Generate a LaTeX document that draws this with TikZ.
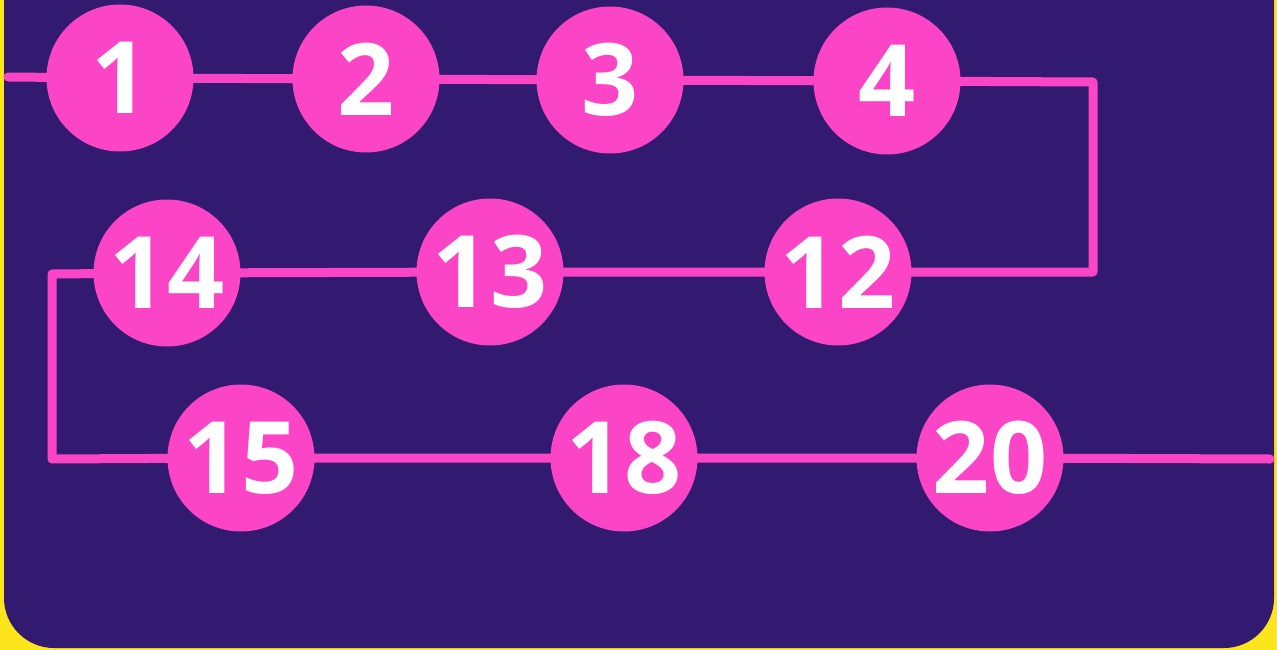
\documentclass[tikz,border=0pt]{standalone}
\usepackage{fontspec}
\setmainfont{Open Sans}
\usepackage{tikz}
\usetikzlibrary{positioning,backgrounds}
\definecolor{bgyellow}{HTML}{FCE51A}
\definecolor{bgpurple}{HTML}{321A70}
\definecolor{hotpink}{HTML}{FC44C6}
\tikzstyle{wire} = [draw=hotpink, line width=9pt, line cap=round, line join=round]

\begin{document}
\begin{tikzpicture}[x=1pt, y=-1pt,
    num_node/.style={circle, fill=hotpink, minimum size=147pt, inner sep=0pt, text=white,
      font=\bfseries\fontsize{100}{100}\selectfont}]
    \useasboundingbox (0,0) rectangle (1277,650);

    % Nodes (numbers)
    \node[num_node] (n1) at (120,78) {1};
    \node[num_node] (n2) at (366,79) {2};
    \node[num_node] (n3) at (610,80) {3};
    \node[num_node] (n4) at (887,81) {4};
    \node[num_node] (n14) at (167,273) {14};
    \node[num_node] (n13) at (490,272) {13};
    \node[num_node] (n12) at (838,272) {12};
    \node[num_node] (n15) at (241,458) {15};
    \node[num_node] (n18) at (624,458) {18};
    \node[num_node] (n20) at (990,458) {20};

    % Corners and free ends
    \coordinate (in) at (8,77);
    \coordinate (ne) at (1093,82);
    \coordinate (se) at (1093,272);
    \coordinate (nw) at (52,274);
    \coordinate (sw) at (52,459);
    \coordinate (out) at (1270,459);

    \begin{scope}[on background layer]
    \fill[bgyellow] (0,0) rectangle (1277,650);
    \fill[bgpurple, rounded corners=50pt] (4,-80) rectangle (1274,648);

    % Links
    \draw[wire] (in) -- (n1.center) -- (n2.center) -- (n3.center) -- (n4.center) -- (ne) -- (se)
      -- (n12.center) -- (n13.center) -- (n14.center) -- (nw) -- (sw)
      -- (n15.center) -- (n18.center) -- (n20.center) -- (out);
    \end{scope}
\end{tikzpicture}
\end{document}
